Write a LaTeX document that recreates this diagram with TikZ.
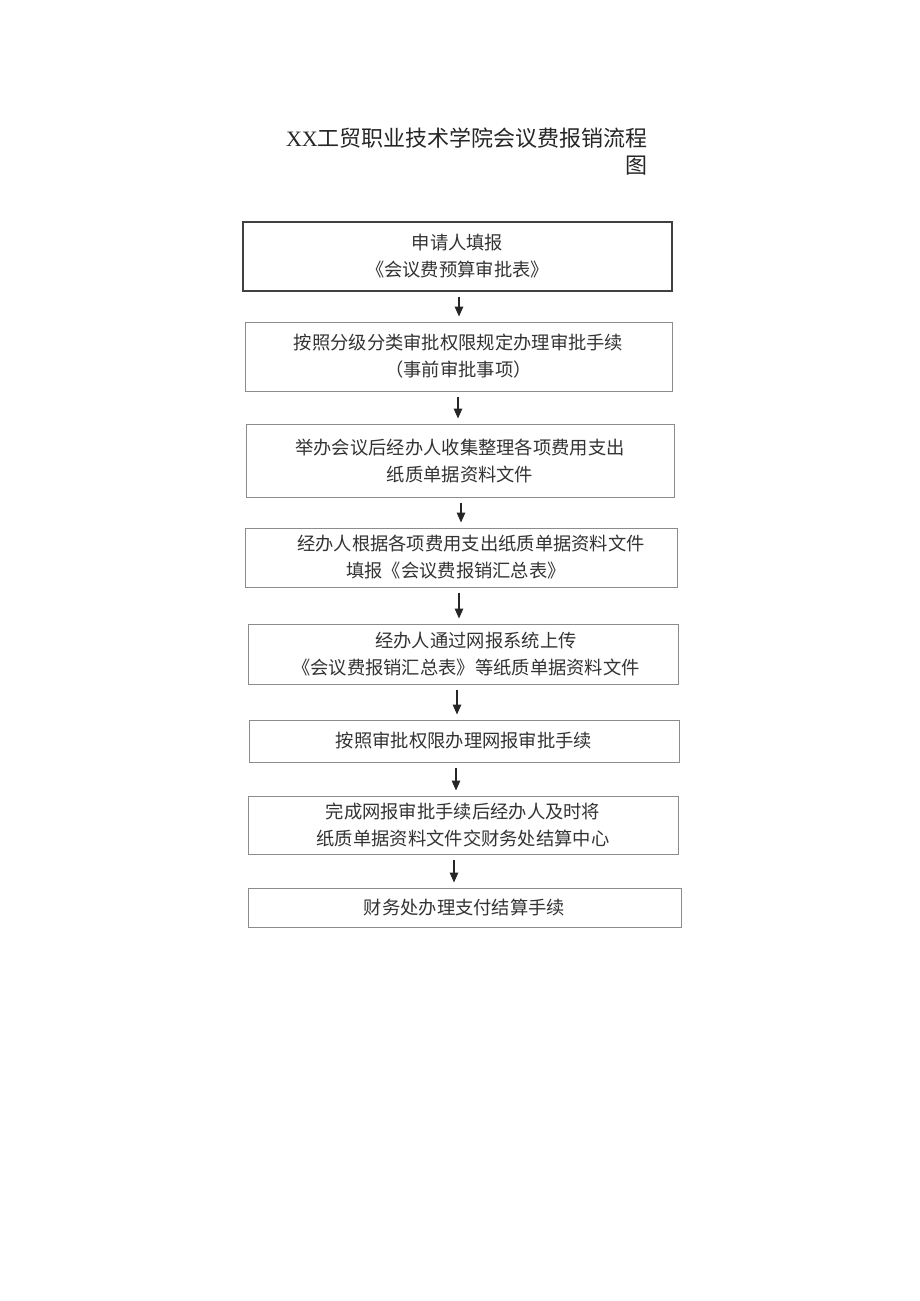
\documentclass[tikz,border=0pt]{standalone}
\usepackage{fontspec}
\setmainfont{Liberation Serif}
\newfontfamily\cjk{Noto Sans CJK SC}
\usetikzlibrary{arrows.meta}
\tikzset{
  box/.style={draw=black!45, line width=1pt, rectangle, inner sep=0pt, align=center,
    font=\cjk\fontsize{18.3}{27}\selectfont, text=black!80},
  firstbox/.style={box, draw=black!75, line width=1.5pt},
  arr/.style={-{Triangle[length=10pt,width=8.5pt]}, line width=1.4pt, draw=black!85,
    shorten <=5pt, shorten >=5pt},
  titletext/.style={anchor=east, inner sep=0pt, text=black!85}
}
\begin{document}
\begin{tikzpicture}[x=1pt,y=-1pt]
\useasboundingbox (0,0) rectangle (920,1301);
\fill[white] (0,0) rectangle (920,1301);
% title
\node[titletext] (t1) at (648,138) {\fontsize{22}{28}\selectfont XX\cjk 工贸职业技术学院会议费报销流程};
\node[titletext] (t2) at (648,166) {\cjk\fontsize{22}{28}\selectfont 图};
% boxes
\node[firstbox, minimum width=429pt, minimum height=69pt] (b1) at (457.5,256.5)
  {申请人填报\\《会议费预算审批表》};
\node[box, minimum width=427pt, minimum height=69pt] (b2) at (458.5,356.5)
  {按照分级分类审批权限规定办理审批手续\\（事前审批事项）};
\node[box, minimum width=428pt, minimum height=73pt] (b3) at (460,460.5)
  {举办会议后经办人收集整理各项费用支出\\纸质单据资料文件};
\node[box, minimum width=432pt, minimum height=59pt] (b4) at (461,557.5)
  {\hspace*{20pt}经办人根据各项费用支出纸质单据资料文件\\填报《会议费报销汇总表》\hspace*{10pt}};
\node[box, minimum width=430pt, minimum height=60pt] (b5) at (463,654)
  {\hspace*{26pt}经办人通过网报系统上传\\\hspace*{6pt}《会议费报销汇总表》等纸质单据资料文件};
\node[box, minimum width=430pt, minimum height=42pt] (b6) at (464,741)
  {按照审批权限办理网报审批手续};
\node[box, minimum width=430pt, minimum height=58pt] (b7) at (463,825)
  {完成网报审批手续后经办人及时将\\纸质单据资料文件交财务处结算中心};
\node[box, minimum width=433pt, minimum height=39pt] (b8) at (464.5,907.5)
  {财务处办理支付结算手续};
% arrows
\draw[arr] ([xshift=1.5pt]b1.south) -- ([xshift=1.5pt]b1.south |- b2.north);
\draw[arr] ([xshift=-0.5pt]b2.south) -- ([xshift=-0.5pt]b2.south |- b3.north);
\draw[arr] ([xshift=1pt]b3.south) -- ([xshift=1pt]b3.south |- b4.north);
\draw[arr] ([xshift=-2pt]b4.south) -- ([xshift=-2pt]b4.south |- b5.north);
\draw[arr] ([xshift=-6pt]b5.south) -- ([xshift=-6pt]b5.south |- b6.north);
\draw[arr] ([xshift=-8pt]b6.south) -- ([xshift=-8pt]b6.south |- b7.north);
\draw[arr] ([xshift=-9pt]b7.south) -- ([xshift=-9pt]b7.south |- b8.north);
\end{tikzpicture}
\end{document}
